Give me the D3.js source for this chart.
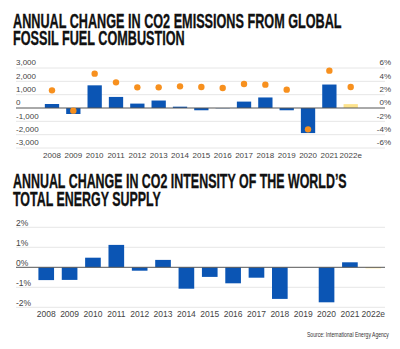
<!DOCTYPE html>
<html>
<head>
<meta charset="utf-8">
<script src="https://cdn.jsdelivr.net/npm/d3@7"></script>
<style>
    html, body { margin: 0; padding: 0; background: #fff; }
    svg { display: block; font-family: "Liberation Sans Narrow", "Liberation Sans", sans-serif; }
    .title { font-weight: 700; font-size: 20.5px; fill: #111; stroke: #111; stroke-width: 0.35px; }
    .tick-label { font-size: 8px; fill: #444; }
</style>
</head>
<body>
<svg width="400" height="349"></svg>
<script>
const years = ["2008", "2009", "2010", "2011", "2012", "2013", "2014", "2015", "2016", "2017", "2018", "2019", "2020", "2021", "2022e"];
// annual change in CO2 emissions, Mt (bars, left axis)
const emissionsChange = [300, -450, 1700, 830, 330, 560, 100, -170, -20, 480, 790, -170, -1880, 1760, 290];
// annual change in CO2 emissions, % (dots, right axis)
const emissionsChangePct = [2.65, -0.4, 5.15, 3.85, 3.1, 3.1, 3.25, 3.15, 3.0, 3.6, 3.5, 2.75, -3.2, 5.6, 3.15];
// annual change in CO2 intensity of total energy supply, %
const intensityChange = [-0.64, -0.63, 0.48, 1.12, -0.17, 0.37, -1.07, -0.48, -0.8, -0.52, -1.58, 0, -1.75, 0.25, -0.05];

const leftTicks = [-3000, -2000, -1000, 0, 1000, 2000, 3000];
const rightTicks = [-6, -4, -2, 0, 2, 4, 6];
const intensityTicks = [-2, -1, 0, 1, 2];

const blue = "#0b55b4";
const orange = "#f7901e";
const yellow = "#fde38c";
const gridColor = "#e6e6e6";
const gridLeft = 16, gridRight = 385;

const svg = d3.select("svg");
svg.append("rect").attr("width", 400).attr("height", 349).attr("fill", "#fff");

const barColor = d => d === "2022e" ? yellow : blue;

// condensed two-line display title, squeezed so the first line hits the measured width
function title(lines, y, len) {
    const t = svg.append("text").attr("class", "title");
    lines.forEach((l, i) => {
        t.append("tspan")
            .attr("x", 0)
            .attr("y", i * 17.5)
            .text(l);
    });
    const w = t.select("tspan").node().getComputedTextLength();
    t.attr("transform", `translate(13,${y}) scale(${len / w},1)`);
}

// ---- top chart ----
title(["ANNUAL CHANGE IN CO2 EMISSIONS FROM GLOBAL", "FOSSIL FUEL COMBUSTION"], 27.9, 329);

const x1 = d3.scaleBand().domain(years).range([37.8, 364.9]).padding(0.33);
const yL = d3.scaleLinear().domain([-3000, 3000]).range([148, 68]);
const yR = d3.scaleLinear().domain([-6, 6]).range([148, 68]);

const upper = svg.append("g");

upper.append("g")
    .selectAll("line")
    .data(leftTicks.filter(d => d !== 0))
    .join("line")
    .attr("x1", gridLeft).attr("x2", gridRight)
    .attr("y1", d => yL(d)).attr("y2", d => yL(d))
    .attr("stroke", gridColor).attr("stroke-width", 1);

upper.append("g")
    .selectAll("text")
    .data(leftTicks)
    .join("text")
    .attr("class", "tick-label")
    .attr("x", gridLeft)
    .attr("y", d => yL(d) - 2.6)
    .text(d => d3.format(",")(d).replace("−", "-"));

upper.append("g")
    .selectAll("text")
    .data(rightTicks)
    .join("text")
    .attr("class", "tick-label")
    .attr("x", 391)
    .attr("y", d => yR(d) - 2.6)
    .attr("text-anchor", "end")
    .text(d => d + "%");

upper.append("g")
    .selectAll("rect")
    .data(years)
    .join("rect")
    .attr("x", d => x1(d))
    .attr("width", x1.bandwidth())
    .attr("y", (d, i) => yL(Math.max(0, emissionsChange[i])))
    .attr("height", (d, i) => Math.abs(yL(emissionsChange[i]) - yL(0)))
    .attr("fill", barColor);

upper.append("line")
    .attr("x1", gridLeft).attr("x2", gridRight)
    .attr("y1", yL(0)).attr("y2", yL(0))
    .attr("stroke", "#555").attr("stroke-width", 1);

upper.append("g")
    .selectAll("circle")
    .data(years)
    .join("circle")
    .attr("cx", d => x1(d) + x1.bandwidth() / 2)
    .attr("cy", (d, i) => yR(emissionsChangePct[i]))
    .attr("r", 3.2)
    .attr("fill", orange);

const xAxisTop = upper.append("g")
    .attr("transform", "translate(0,148)")
    .call(d3.axisBottom(x1).tickSize(0).tickPadding(4));
xAxisTop.select(".domain").remove();
xAxisTop.selectAll("text")
    .attr("class", "tick-label")
    .attr("font-family", null).attr("font-size", null).attr("fill", null);

// ---- bottom chart ----
title(["ANNUAL CHANGE IN CO2 INTENSITY OF THE WORLD\u2019S", "TOTAL ENERGY SUPPLY"], 188.3, 334);

const x2 = d3.scaleBand().domain(years).range([30.7, 388.8]).padding(0.33);
const y2 = d3.scaleLinear().domain([-2, 2]).range([307.3, 227.3]);

const lower = svg.append("g");

lower.append("g")
    .selectAll("line")
    .data(intensityTicks.filter(d => d !== 0))
    .join("line")
    .attr("x1", gridLeft).attr("x2", gridRight)
    .attr("y1", d => y2(d)).attr("y2", d => y2(d))
    .attr("stroke", gridColor).attr("stroke-width", 1);

lower.append("g")
    .selectAll("text")
    .data(intensityTicks)
    .join("text")
    .attr("class", "tick-label")
    .style("font-size", "8.5px")
    .attr("x", gridLeft)
    .attr("y", d => y2(d) - 1.8)
    .text(d => d + "%");

lower.append("g")
    .selectAll("rect")
    .data(years)
    .join("rect")
    .attr("x", d => x2(d))
    .attr("width", x2.bandwidth())
    .attr("y", (d, i) => y2(Math.max(0, intensityChange[i])))
    .attr("height", (d, i) => Math.abs(y2(intensityChange[i]) - y2(0)))
    .attr("fill", barColor);

lower.append("line")
    .attr("x1", gridLeft).attr("x2", gridRight)
    .attr("y1", y2(0)).attr("y2", y2(0))
    .attr("stroke", "#555").attr("stroke-width", 1);

const xAxisBottom = lower.append("g")
    .attr("transform", "translate(0,307)")
    .call(d3.axisBottom(x2).tickSize(0).tickPadding(4));
xAxisBottom.select(".domain").remove();
xAxisBottom.selectAll("text")
    .attr("class", "tick-label")
    .attr("font-family", null).attr("font-size", null).attr("fill", null)
    .style("font-size", "8.5px");

const source = svg.append("text")
    .attr("x", 0)
    .attr("y", 0)
    .style("font-size", "7px")
    .style("fill", "#333")
    .text("Source: International Energy Agency");
const sw = source.node().getComputedTextLength();
source.attr("transform", `translate(${389 - 82},337) scale(${82 / sw},1)`);
</script>
</body>
</html>
